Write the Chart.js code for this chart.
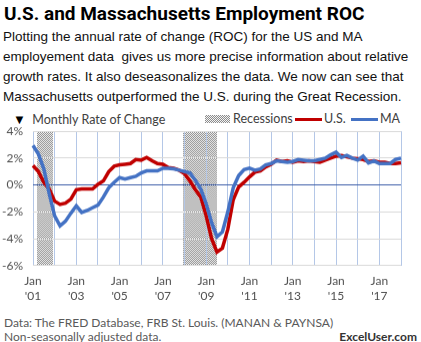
<!DOCTYPE html>
<html>
<head>
<meta charset="utf-8">
<script src="https://cdn.jsdelivr.net/npm/chart.js@4"></script>
<style>
  body { margin:0; width:421px; height:342px; background:#fff; position:relative; overflow:hidden; font-family:Lato, sans-serif; }
  #title { position:absolute; left:4px; top:1px; font:bold 19px Roboto, sans-serif; line-height:26px; color:#000; white-space:nowrap; }
  #intro { position:absolute; left:3px; top:27px; font:13.5px "Liberation Sans", Arial, sans-serif; line-height:20px; color:#111; white-space:nowrap; }
  #legend { position:absolute; left:0; top:111px; width:421px; height:16px; font-size:12.5px; color:#404040; line-height:16px; }
  #legend span { position:absolute; top:0; white-space:nowrap; }
  #legend b { color:#000; font-size:13px; }
  .hatch { position:absolute; top:4px; width:25px; height:8px; background:repeating-conic-gradient(#8c8c8c 0 25%, #f4f4f4 0 50%) 0 0/2px 2px; }
  .swatch { position:absolute; top:7px; width:27px; height:3px; }
  #chartBox { position:absolute; left:0; top:122px; width:421px; height:185px; }
  .foot { position:absolute; font-size:12px; color:#595959; line-height:16px; white-space:nowrap; }
</style>
</head>
<body>
<div id="title">U.S. and Massachusetts Employment ROC</div>
<div id="intro">Plotting the annual rate of change (ROC) for the US and MA<br>employement data&nbsp; gives us more precise information about relative<br>growth rates. It also deseasonalizes the data. We now can see that<br>Massachusetts outperformed the U.S. during the Great Recession.</div>
<div id="legend">
  <span style="left:13px;"><b>&#9660;</b>&nbsp; Monthly Rate of Change</span>
  <div class="hatch" style="left:205px;"></div>
  <span style="left:233px;">Recessions</span>
  <div class="swatch" style="left:295px;background:#c00000;"></div>
  <span style="left:324px;">U.S.</span>
  <div class="swatch" style="left:351px;background:#4472c4;"></div>
  <span style="left:380px;">MA</span>
</div>
<div id="chartBox"><canvas id="rocChart"></canvas></div>
<div class="foot" style="left:4px;top:315px;">Data: The FRED Database, FRB St. Louis. (MANAN &amp; PAYNSA)</div>
<div class="foot" style="left:4px;top:329px;">Non-seasonally adjusted data.</div>
<div class="foot" style="right:4px;top:329px;font-weight:bold;color:#333;">ExcelUser.com</div>

<script>
// quarterly readings of the year-over-year change, Jan 2001 .. Jan 2018
const months = [
  '2001-01','2001-04','2001-07','2001-10','2002-01','2002-04','2002-07','2002-10',
  '2003-01','2003-04','2003-07','2003-10','2004-01','2004-04','2004-07','2004-10',
  '2005-01','2005-04','2005-07','2005-10','2006-01','2006-04','2006-07','2006-10',
  '2007-01','2007-04','2007-07','2007-10','2008-01','2008-04','2008-07','2008-10',
  '2009-01','2009-04','2009-07','2009-10','2010-01','2010-04','2010-07','2010-10',
  '2011-01','2011-04','2011-07','2011-10','2012-01','2012-04','2012-07','2012-10',
  '2013-01','2013-04','2013-07','2013-10','2014-01','2014-04','2014-07','2014-10',
  '2015-01','2015-04','2015-07','2015-10','2016-01','2016-04','2016-07','2016-10',
  '2017-01','2017-04','2017-07','2017-10','2018-01'
];

const usRoc = [
  1.45, 1.0, 0.2, -0.3, -1.2, -1.45, -1.35, -1.05,
  -0.35, -0.3, -0.3, -0.3, 0.05, 0.3, 1.0, 1.4,
  1.5, 1.55, 1.6, 1.9, 1.85, 2.05, 1.8, 1.6,
  1.55, 1.3, 1.25, 1.1, 0.85, 0.3, -0.35, -0.9,
  -2.3, -4.0, -5.0, -4.7, -3.3, -1.1, -0.15, 0.2,
  0.6, 0.95, 1.05, 1.35, 1.55, 1.85, 1.75, 1.8,
  1.7, 1.8, 1.75, 1.8, 1.75, 1.7, 1.85, 2.0,
  2.15, 2.2, 2.1, 2.0, 1.95, 1.9, 1.75, 1.8,
  1.7, 1.7, 1.6, 1.6, 1.65
];

const maRoc = [
  2.95, 2.3, 1.2, -0.65, -2.3, -3.05, -2.7, -2.1,
  -1.55, -2.05, -1.9, -1.7, -1.5, -0.9, -0.2, 0.2,
  0.55, 0.45, 0.55, 0.65, 0.9, 1.05, 1.05, 1.05,
  1.25, 1.25, 1.2, 1.1, 1.0, 0.9, 0.35, -0.3,
  -1.4, -2.8, -3.85, -3.5, -2.0, -0.2, 0.7, 1.15,
  1.25, 1.1, 1.2, 1.5, 1.6, 1.8, 1.75, 1.7,
  1.75, 1.9, 1.85, 1.8, 1.8, 1.9, 2.0, 2.25,
  2.45, 2.05, 2.2, 2.0, 1.85, 2.15, 1.65, 1.8,
  1.6, 1.6, 1.6, 1.9, 2.0
];

const yTicks = [-6, -4, -2, 0, 2, 4];

// NBER recessions (start month, month after end)
const recStart = ['2001-03', '2007-12'];
const recEnd = ['2001-12', '2009-07'];

// fractional category index for any month
function monthPos(s) {
  const y = +s.slice(0, 4), m = +s.slice(5, 7);
  return (y - 2001) * 4 + (m - 1) / 3;
}

// little checker pattern like Excel's dotted fill
const pc = document.createElement('canvas');
pc.width = 2; pc.height = 2;
const pctx = pc.getContext('2d');
pctx.fillStyle = '#f4f4f4'; pctx.fillRect(0, 0, 2, 2);
pctx.fillStyle = '#8c8c8c'; pctx.fillRect(0, 0, 1, 1); pctx.fillRect(1, 1, 1, 1);

const recessionShade = {
  id: 'recessionShade',
  beforeDraw(chart) {
    const { ctx, chartArea: a, scales: { x } } = chart;
    ctx.save();
    ctx.fillStyle = ctx.createPattern(pc, 'repeat');
    for (let i = 0; i < recStart.length; i++) {
      const x0 = x.getPixelForValue(monthPos(recStart[i]));
      const x1 = x.getPixelForValue(monthPos(recEnd[i]));
      ctx.fillRect(Math.round(x0), a.top, Math.round(x1 - x0), a.bottom - a.top);
    }
    ctx.restore();
  }
};

const ctx = document.getElementById('rocChart').getContext('2d');
const chart = new Chart(ctx, {
  type: 'line',
  data: {
    labels: months,
    datasets: [
      { label: 'MA', data: maRoc, borderColor: '#4472c4', borderWidth: 3.5, pointRadius: 0, tension: 0 },
      { label: 'U.S.', data: usRoc, borderColor: '#c00000', borderWidth: 3.5, pointRadius: 0, tension: 0 }
    ]
  },
  options: {
    responsive: true,
    maintainAspectRatio: false,
    animation: false,
    layout: { padding: { top: 4, right: 20, left: 0, bottom: 0 } },
    plugins: { legend: { display: false }, tooltip: { enabled: false } },
    scales: {
      x: {
        border: { display: false },
        grid: { color: '#b4c7e7', drawTicks: false },
        ticks: {
          autoSkip: false,
          maxRotation: 0,
          padding: 8,
          color: '#505050',
          font: { family: 'Lato', size: 12, lineHeight: 1.25 },
          callback: function (v, i) {
            const lab = months[i];
            if (!lab.endsWith('-01')) return null;
            const yr = +lab.slice(0, 4);
            return yr % 2 ? ['Jan', "'" + lab.slice(2, 4)] : '';
          }
        },
        afterFit(s) { s.height = 42; }
      },
      y: {
        min: -6,
        max: 4,
        border: { display: false },
        grid: {
          drawTicks: false,
          color: c => c.tick.value === 0 ? '#3f5fa8' : '#d9d9d9'
        },
        afterBuildTicks(s) { s.ticks = yTicks.map(v => ({ value: v })); },
        ticks: {
          padding: 10,
          color: '#505050',
          font: { family: 'Lato', size: 12 },
          callback: v => v + '%'
        },
        afterFit(s) { s.width = 33; }
      }
    }
  },
  plugins: [recessionShade]
});

// move the box so the plot spans 4% at y=131.5 down to -6% at y=265 like the original
const box = document.getElementById('chartBox');
const area = chart.chartArea;
box.style.top = (131.5 - area.top) + 'px';
box.style.height = (185 + 133.5 - (area.bottom - area.top)) + 'px';
chart.resize();
</script>
</body>
</html>
